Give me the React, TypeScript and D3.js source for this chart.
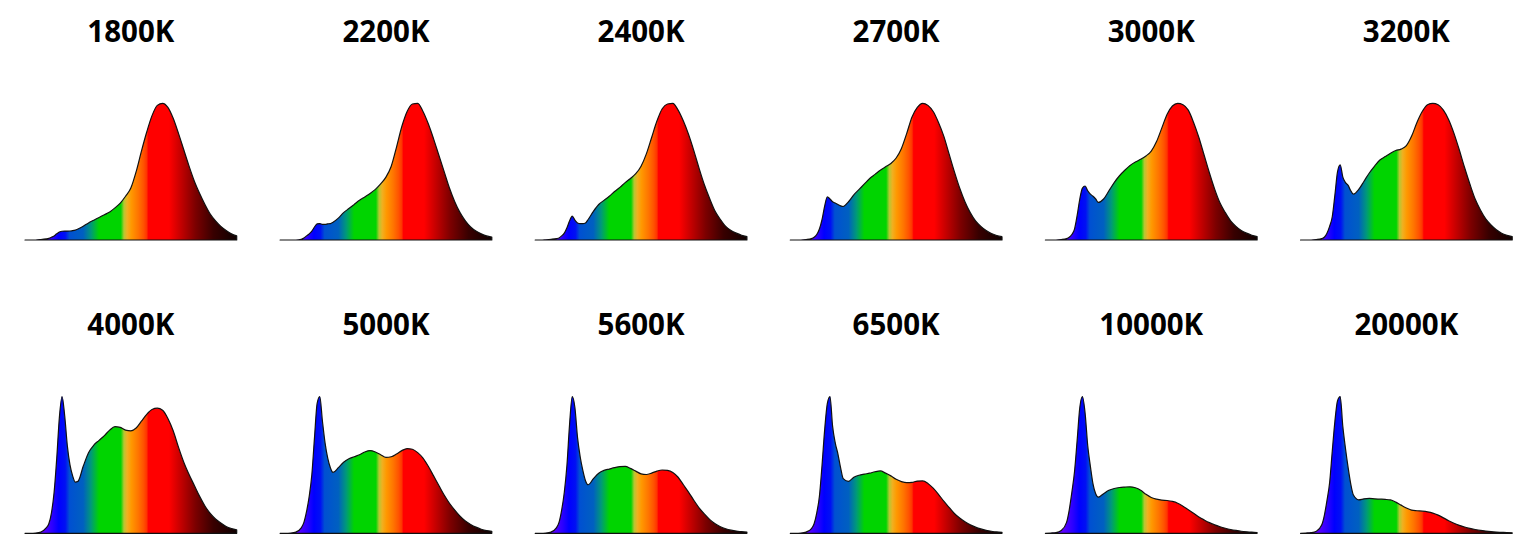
import { useEffect, useRef } from 'react';
import * as React from 'react';
import * as d3 from 'd3';

// wavelength grid (nm), denser around the blue LED peak
const wavelengths = [
    380, 390, 400, 410, 420,
    425, 430, 435, 440, 445, 450, 455, 460, 465, 470, 475, 480,
    490, 500, 510, 520, 530, 540, 550, 560, 570, 580,
    590, 600, 610, 620, 630, 640, 650, 660, 670, 680,
    690, 700, 710, 720, 730, 740, 750, 760, 770, 780,
];

const titles = ['1800K', '2200K', '2400K', '2700K', '3000K', '3200K',
    '4000K', '5000K', '5600K', '6500K', '10000K', '20000K'];

// relative spectral power, normalised to the peak of each panel
const spd1800 = [
    0, 0, 0, 0.003, 0.008,
    0.012, 0.02, 0.03, 0.045, 0.058, 0.064, 0.065, 0.065, 0.066, 0.068, 0.072, 0.08,
    0.1, 0.125, 0.145, 0.165, 0.185, 0.205, 0.235, 0.27, 0.32, 0.38,
    0.5, 0.65, 0.79, 0.91, 0.985, 1.0, 0.97, 0.89, 0.78, 0.66,
    0.54, 0.43, 0.34, 0.26, 0.19, 0.14, 0.1, 0.07, 0.045, 0.03,
];
const spd2200 = [
    0, 0, 0, 0, 0.005,
    0.015, 0.03, 0.045, 0.065, 0.095, 0.118, 0.12, 0.115, 0.115, 0.118, 0.12, 0.13,
    0.16, 0.2, 0.23, 0.26, 0.29, 0.315, 0.34, 0.37, 0.41, 0.46,
    0.54, 0.68, 0.83, 0.94, 0.995, 1.0, 0.94, 0.85, 0.74, 0.62,
    0.5, 0.38, 0.28, 0.2, 0.14, 0.095, 0.065, 0.045, 0.03, 0.022,
];
const spd2400 = [
    0, 0, 0.002, 0.005, 0.01,
    0.015, 0.03, 0.05, 0.09, 0.14, 0.175, 0.145, 0.125, 0.12, 0.12, 0.125, 0.15,
    0.21, 0.26, 0.29, 0.32, 0.355, 0.385, 0.42, 0.45, 0.485, 0.54,
    0.63, 0.75, 0.87, 0.96, 0.995, 1.0, 0.95, 0.87, 0.77, 0.65,
    0.52, 0.4, 0.3, 0.21, 0.15, 0.1, 0.07, 0.05, 0.035, 0.025,
];
const spd2700 = [
    0, 0, 0, 0.003, 0.01,
    0.02, 0.04, 0.08, 0.15, 0.25, 0.315, 0.3, 0.28, 0.27, 0.26, 0.25, 0.245,
    0.28, 0.33, 0.37, 0.41, 0.45, 0.48, 0.51, 0.535, 0.56, 0.6,
    0.67, 0.78, 0.9, 0.97, 1.0, 0.985, 0.94, 0.86, 0.76, 0.63,
    0.5, 0.38, 0.28, 0.2, 0.14, 0.1, 0.07, 0.048, 0.033, 0.024,
];
const spd3000 = [
    0, 0, 0, 0.003, 0.01,
    0.02, 0.04, 0.08, 0.18, 0.3, 0.38, 0.395, 0.36, 0.335, 0.32, 0.3, 0.275,
    0.3, 0.36, 0.42, 0.47, 0.51, 0.545, 0.57, 0.59, 0.615, 0.65,
    0.72, 0.82, 0.92, 0.98, 1.0, 0.99, 0.95, 0.86, 0.75, 0.62,
    0.49, 0.37, 0.27, 0.2, 0.14, 0.1, 0.07, 0.05, 0.035, 0.025,
];
const spd3200 = [
    0, 0, 0, 0.003, 0.01,
    0.02, 0.05, 0.1, 0.17, 0.33, 0.5, 0.55, 0.46, 0.42, 0.4, 0.36, 0.335,
    0.37, 0.43, 0.49, 0.54, 0.585, 0.61, 0.635, 0.655, 0.665, 0.69,
    0.76, 0.86, 0.94, 0.99, 1.0, 0.99, 0.95, 0.88, 0.78, 0.66,
    0.53, 0.41, 0.3, 0.22, 0.155, 0.11, 0.075, 0.05, 0.035, 0.025,
];
const spd4000 = [
    0, 0, 0.002, 0.01, 0.04,
    0.07, 0.15, 0.3, 0.55, 0.85, 1.0, 0.86, 0.64, 0.5, 0.42, 0.375, 0.38,
    0.49, 0.59, 0.645, 0.68, 0.715, 0.755, 0.78, 0.775, 0.755, 0.75,
    0.77, 0.82, 0.87, 0.905, 0.915, 0.9, 0.84, 0.75, 0.63, 0.52,
    0.43, 0.35, 0.27, 0.2, 0.145, 0.105, 0.075, 0.05, 0.035, 0.025,
];
const spd5000 = [
    0, 0, 0.002, 0.01, 0.04,
    0.08, 0.16, 0.27, 0.43, 0.7, 0.95, 1.0, 0.82, 0.66, 0.55, 0.48, 0.445,
    0.48, 0.52, 0.545, 0.56, 0.575, 0.595, 0.605, 0.595, 0.575, 0.555,
    0.56, 0.58, 0.605, 0.62, 0.615, 0.59, 0.55, 0.49, 0.42, 0.35,
    0.28, 0.22, 0.17, 0.125, 0.09, 0.065, 0.045, 0.03, 0.02, 0.015,
];
const spd5600 = [
    0, 0, 0.002, 0.01, 0.04,
    0.08, 0.17, 0.3, 0.5, 0.8, 1.0, 0.92, 0.7, 0.56, 0.46, 0.385, 0.355,
    0.4, 0.44, 0.46, 0.47, 0.48, 0.488, 0.49, 0.475, 0.455, 0.435,
    0.43, 0.44, 0.455, 0.463, 0.46, 0.445, 0.41, 0.355, 0.3, 0.24,
    0.185, 0.14, 0.1, 0.07, 0.048, 0.033, 0.023, 0.016, 0.012, 0.008,
];
const spd6500 = [
    0, 0, 0.002, 0.01, 0.035,
    0.07, 0.15, 0.27, 0.5, 0.76, 0.95, 1.0, 0.78, 0.66, 0.58, 0.48, 0.4,
    0.38, 0.41, 0.425, 0.433, 0.44, 0.45, 0.456, 0.44, 0.42, 0.395,
    0.378, 0.37, 0.372, 0.382, 0.383, 0.365, 0.33, 0.285, 0.235, 0.19,
    0.145, 0.112, 0.085, 0.062, 0.045, 0.032, 0.022, 0.015, 0.01, 0.007,
];
const spd10000 = [
    0, 0.002, 0.005, 0.02, 0.08,
    0.17, 0.3, 0.45, 0.68, 0.92, 1.0, 0.88, 0.64, 0.49, 0.36, 0.29, 0.265,
    0.29, 0.315, 0.328, 0.335, 0.338, 0.34, 0.333, 0.315, 0.285, 0.262,
    0.25, 0.243, 0.24, 0.233, 0.22, 0.198, 0.172, 0.146, 0.12, 0.098,
    0.078, 0.062, 0.048, 0.037, 0.028, 0.021, 0.015, 0.011, 0.008, 0.006,
];
const spd20000 = [
    0, 0.002, 0.005, 0.015, 0.06,
    0.13, 0.24, 0.37, 0.6, 0.82, 0.97, 1.0, 0.78, 0.62, 0.48, 0.36, 0.28,
    0.245, 0.252, 0.255, 0.252, 0.25, 0.248, 0.244, 0.228, 0.206, 0.185,
    0.17, 0.165, 0.162, 0.157, 0.148, 0.133, 0.113, 0.092, 0.073, 0.058,
    0.046, 0.036, 0.028, 0.021, 0.016, 0.012, 0.009, 0.007, 0.005, 0.004,
];

const spectra = [spd1800, spd2200, spd2400, spd2700, spd3000, spd3200,
    spd4000, spd5000, spd5600, spd6500, spd10000, spd20000];

// colour of the fill along the wavelength axis
const colourStops: [number, string][] = [
    [380, '#6a00ff'], [415, '#5a00ff'], [432, '#2a00ff'], [444, '#0000ff'],
    [456, '#0010f4'], [464, '#0050d2'], [490, '#0060c0'], [505, '#009a78'],
    [520, '#00d400'], [561, '#00d400'], [567, '#b4c832'], [573, '#f0b020'],
    [581, '#ff9800'], [594, '#ff7400'], [604, '#ff5200'], [610, '#ff3400'],
    [613, '#ff0000'], [652, '#ff0000'], [676, '#c00000'], [702, '#7c0000'],
    [736, '#380000'], [780, '#0e0000'],
];

const App: React.FC = () => {
    const ref = useRef<SVGSVGElement>(null);

    useEffect(() => {
        const svgWidth = 1536, svgHeight = 557;
        const colX0 = 25, colStep = 255.1, plotW = 211.7, plotH = 136.7;
        const rowBase = [240, 533.3];
        const titleBase = [42, 334.5];

        const svg = d3.select(ref.current)
            .attr('width', svgWidth)
            .attr('height', svgHeight);
        svg.selectAll('*').remove();

        const grad = svg.append('defs')
            .append('linearGradient')
            .attr('id', 'spectrum')
            .attr('x1', 0).attr('x2', 1).attr('y1', 0).attr('y2', 0);
        grad.selectAll('stop')
            .data(colourStops)
            .enter()
            .append('stop')
            .attr('offset', d => (d[0] - 380) / 400)
            .attr('stop-color', d => d[1]);

        spectra.forEach((values, k) => {
            const row = Math.floor(k / 6), col = k % 6;
            const x0 = colX0 + col * colStep;
            const base = rowBase[row];

            const xScale = d3.scaleLinear()
                .domain([380, 780])
                .range([x0, x0 + plotW]);
            const yScale = d3.scaleLinear()
                .domain([0, 1])
                .range([base, base - plotH]);

            const area = d3.area<number>()
                .x((_d, i) => xScale(wavelengths[i]))
                .y0(base)
                .y1(d => yScale(d))
                .curve(d3.curveMonotoneX);

            svg.append('path')
                .datum(values)
                .attr('fill', 'url(#spectrum)')
                .attr('stroke', '#111')
                .attr('stroke-width', 1.2)
                .attr('stroke-linejoin', 'round')
                .attr('d', area);

            svg.append('text')
                .attr('x', x0 + plotW / 2)
                .attr('y', titleBase[row])
                .attr('text-anchor', 'middle')
                .attr('font-family', '"Open Sans", "Noto Sans", sans-serif')
                .attr('font-weight', 700)
                .attr('font-size', '29.5px')
                .attr('fill', '#000')
                .text(titles[k]);
        });
    }, []);

    return (
        <div style={{ position: 'absolute', left: 0, top: 0 }}>
            <svg ref={ref} style={{ display: 'block' }} />
        </div>
    );
};

export default App;
